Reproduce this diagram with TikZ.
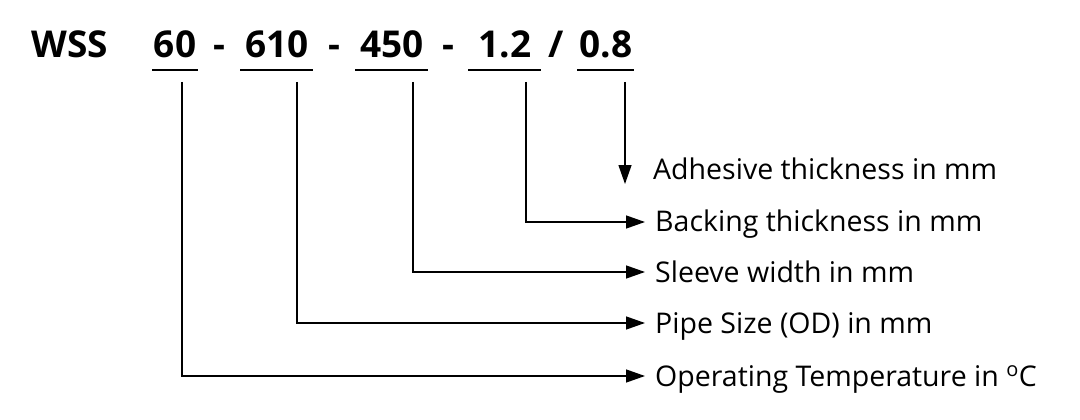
\documentclass[tikz,border=0pt]{standalone}
\usepackage{fontspec}
\setmainfont{Open Sans}
\usetikzlibrary{arrows.meta}
\begin{document}
\begin{tikzpicture}[x=1pt,y=-1pt,
  hd/.style={font=\fontsize{37}{40}\selectfont\bfseries,anchor=base,inner sep=0pt},
  lb/.style={font=\fontsize{28.5}{30}\selectfont,anchor=base west,inner sep=0pt},
  ln/.style={line width=1.3pt,-{Triangle[length=19pt,width=13pt]}}]
\useasboundingbox (0,0) rectangle (1080,420);
\node[hd] (w) at (70,58) {WSS};
\node[hd] (a) at (175,58) {60};
\node[hd] at (219,58) {-};
\node[hd] (b) at (277,58) {610};
\node[hd] at (334,58) {-};
\node[hd] (c) at (392,58) {450};
\node[hd] at (448,58) {-};
\node[hd] (d) at (505,58) {1.2};
\node[hd] at (556,58) {/};
\node[hd] (e) at (606,58) {0.8};
\foreach \p/\l/\r in {a/152/198,b/240/313,c/355/428,d/468/541,e/577/634}
  \draw[line width=2pt] (\l,70) -- (\r,70);
\node[lb] (t1) at (653,179) {Adhesive thickness in mm};
\node[lb] (t2) at (655,231) {Backing thickness in mm};
\node[lb] (t3) at (655,282) {Sleeve width in mm};
\node[lb] (t4) at (655,333) {Pipe Size (OD) in mm};
\node[lb] (t5) at (655,386) {Operating Temperature in \textsuperscript{o}C};
\coordinate (e0) at (625,82); \coordinate (e1) at (625,184);
\draw[ln] (e0) -- (e1);
\draw[ln] (526,82) |- (645,222);
\draw[ln] (413,82) |- (645,272);
\draw[ln] (297,82) |- (645,323);
\draw[ln] (182,82) |- (645,376);
\end{tikzpicture}
\end{document}
